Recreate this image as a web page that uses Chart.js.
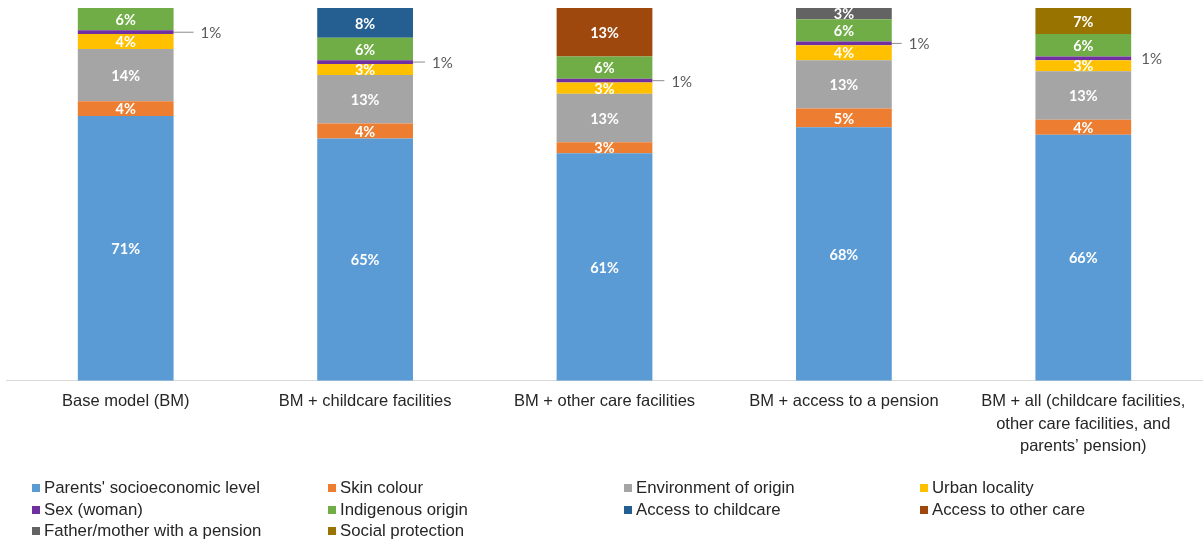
<!DOCTYPE html>
<html>
<head>
<meta charset="utf-8">
<script src="https://cdn.jsdelivr.net/npm/chart.js@4.4.1/dist/chart.umd.min.js"></script>
<style>
  html, body { margin: 0; padding: 0; background: #fff; }
  #wrap { position: relative; width: 1203px; height: 544px; }
  #legend {
    position: absolute; left: 32px; top: 477px;
    display: grid; grid-template-columns: repeat(4, 296px); row-gap: 0;
    font: 16.8px "Liberation Sans", Arial, sans-serif; color: #262626;
  }
  #legend div { height: 21.5px; line-height: 21.5px; white-space: nowrap; }
  #legend span { display: inline-block; width: 8px; height: 8px; margin-right: 4px; vertical-align: 1px; }
</style>
</head>
<body>
<div id="wrap">
  <canvas id="chart" width="1203" height="544"></canvas>
  <div id="legend"></div>
</div>
<script>
const categories = [
  'Base model (BM)',
  'BM + childcare facilities',
  'BM + other care facilities',
  'BM + access to a pension',
  ['BM + all (childcare facilities,', 'other care facilities, and', 'parents\u2019 pension)']
];
const seriesNames = [
  "Parents' socioeconomic level", 'Skin colour', 'Environment of origin', 'Urban locality',
  'Sex (woman)', 'Indigenous origin', 'Access to childcare', 'Access to other care',
  'Father/mother with a pension', 'Social protection'
];
const seriesColors = [
  '#5B9BD5', '#ED7D31', '#A5A5A5', '#FFC000',
  '#7030A0', '#70AD47', '#255E91', '#9E480E',
  '#636363', '#997300'
];
const socioeconomic = [71, 65, 61, 68, 66];
const skinColour    = [4, 4, 3, 5, 4];
const environment   = [14, 13, 13, 13, 13];
const urban         = [4, 3, 3, 4, 3];
const sexWoman      = [1, 1, 1, 1, 1];
const indigenous    = [6, 6, 6, 6, 6];
const childcare     = [null, 8, null, null, null];
const otherCare     = [null, null, 13, null, null];
const pension       = [null, null, null, 3, null];
const socialProt    = [null, null, null, null, 7];
const seriesValues = [socioeconomic, skinColour, environment, urban, sexWoman,
  indigenous, childcare, otherCare, pension, socialProt];

// leader line length for the small outside labels, per bar
const leaderLen = [20, 12, 12, 10, 0];

const segLabels = {
  id: 'segLabels',
  afterDatasetsDraw(chart) {
    const ctx = chart.ctx;
    ctx.save();
    ctx.textBaseline = 'middle';
    chart.data.datasets.forEach((ds, i) => {
      const meta = chart.getDatasetMeta(i);
      meta.data.forEach((bar, j) => {
        const v = ds.data[j];
        if (v == null) return;
        const p = bar.getProps(['x', 'y', 'base', 'width'], true);
        const cy = (p.y + p.base) / 2;
        if (v >= 2) {
          ctx.fillStyle = '#ffffff';
          ctx.font = 'bold 14.5px Lato, sans-serif';
          ctx.textAlign = 'center';
          ctx.fillText(v + '%', p.x, cy + 1);
        } else {
          const x0 = p.x + p.width / 2;
          const len = leaderLen[j];
          if (len) {
            ctx.strokeStyle = '#8c8c8c';
            ctx.lineWidth = 1;
            ctx.beginPath();
            ctx.moveTo(x0, cy);
            ctx.lineTo(x0 + len, cy);
            ctx.stroke();
          }
          ctx.fillStyle = '#595959';
          ctx.font = '15px Lato, sans-serif';
          ctx.textAlign = 'left';
          ctx.fillText(v + '%', x0 + len + (len ? 7 : 10), cy + 1);
        }
      });
    });
    ctx.restore();
  }
};

const chart = new Chart(document.getElementById('chart'), {
  type: 'bar',
  data: {
    labels: categories,
    datasets: seriesNames.map((name, i) => ({
      label: name,
      data: seriesValues[i],
      backgroundColor: seriesColors[i],
      borderWidth: 0
    }))
  },
  options: {
    responsive: false,
    animation: false,
    layout: { padding: { top: 8, left: 6, right: 0, bottom: 76 } },
    datasets: { bar: { categoryPercentage: 1, barPercentage: 0.4 } },
    scales: {
      x: {
        stacked: true,
        grid: { display: false, drawTicks: false },
        border: { display: true, color: '#d9d9d9', width: 1 },
        ticks: {
          autoSkip: false, maxRotation: 0, padding: 10, color: '#262626',
          font: { family: '"Liberation Sans", Arial, sans-serif', size: 16.5, lineHeight: 1.36 }
        }
      },
      y: { stacked: true, display: false, min: 0, max: 100 }
    },
    plugins: { legend: { display: false }, tooltip: { enabled: false } }
  },
  plugins: [segLabels]
});

const legend = document.getElementById('legend');
chart.data.datasets.forEach(ds => {
  const item = document.createElement('div');
  const box = document.createElement('span');
  box.style.background = ds.backgroundColor;
  item.appendChild(box);
  item.appendChild(document.createTextNode(ds.label));
  legend.appendChild(item);
});
</script>
</body>
</html>
